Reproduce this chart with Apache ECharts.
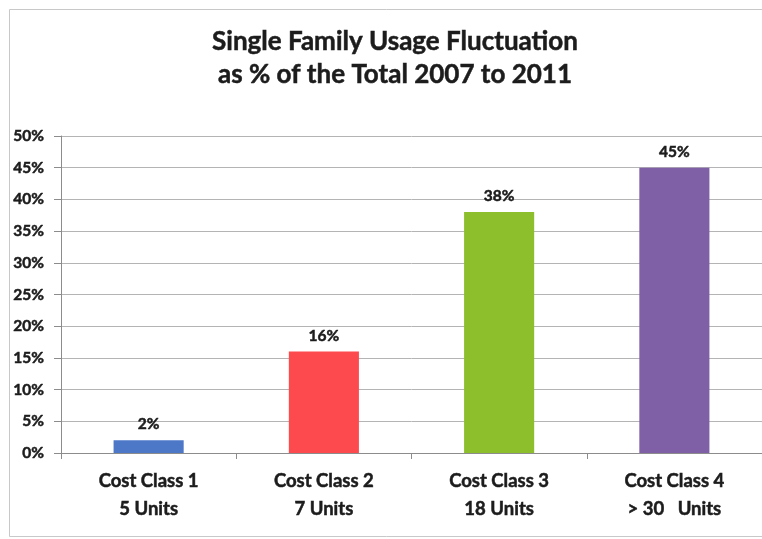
<!DOCTYPE html>
<html>
<head>
<meta charset="utf-8">
<script src="https://cdn.jsdelivr.net/npm/echarts@6/dist/echarts.min.js"></script>
<style>
  html, body { margin: 0; padding: 0; background: #ffffff; }
  #chart { width: 762px; height: 539px; }
</style>
</head>
<body>
<div id="chart"></div>
<script>
// Chart content
const titleLines = ['Single Family Usage Fluctuation', 'as % of the Total 2007 to 2011'];
const costClasses = ['Cost Class 1\n5 Units', 'Cost Class 2\n7 Units', 'Cost Class 3\n18 Units', 'Cost Class 4\n> 30   Units'];
const usageShare = [2, 16, 38, 45];          // percent of total
const barColors = ['#4d78c8', '#fd4a4f', '#8dbf2c', '#7f60a6'];
const yTicks = { min: 0, max: 50, step: 5 };

const FONT = 'Lato, "Open Sans", sans-serif';
const INK = '#1c1c1c';

// a thin outline in the text colour gives the heavier stroke weight
const heavy = (size, extra) => Object.assign({
  fontFamily: FONT, fontWeight: 'bold', fontSize: size, color: INK,
  textBorderColor: INK, textBorderWidth: 0.5
}, extra || {});

const chart = echarts.init(document.getElementById('chart'), null, { renderer: 'canvas' });

chart.setOption({
  backgroundColor: '#ffffff',
  animation: false,
  title: {
    text: titleLines.join('\n'),
    left: 390,
    top: 20,
    textAlign: 'center',
    textStyle: heavy(26, { lineHeight: 33 })
  },
  graphic: [{
    type: 'rect',
    shape: { x: 9.5, y: 9.5, width: 800, height: 527 },
    style: { fill: 'none', stroke: '#c8c8c8', lineWidth: 1 },
    silent: true,
    z: -10
  }],
  grid: { left: 61, right: -11, top: 136, bottom: 86, containLabel: false },
  xAxis: {
    type: 'category',
    data: costClasses,
    axisLine: { lineStyle: { color: '#8c8c8c', width: 1 } },
    axisTick: { show: true, length: 6, alignWithLabel: false, lineStyle: { color: '#8c8c8c' } },
    axisLabel: heavy(18.5, { lineHeight: 28, margin: 14, interval: 0 })
  },
  yAxis: {
    type: 'value',
    min: yTicks.min,
    max: yTicks.max,
    interval: yTicks.step,
    axisLine: { show: true, lineStyle: { color: '#8c8c8c', width: 1 } },
    axisTick: { show: true, length: 7, lineStyle: { color: '#8c8c8c' } },
    axisLabel: heavy(15.5, { formatter: v => v + '%', margin: 17 }),
    splitLine: { show: true, lineStyle: { color: '#b4b4b4', width: 1 } }
  },
  series: [{
    type: 'bar',
    data: usageShare.map((v, i) => ({ value: v, itemStyle: { color: barColors[i] } })),
    barWidth: '40%',
    label: Object.assign({
      show: true,
      position: 'top',
      distance: 8,
      formatter: p => p.value + '%'
    }, heavy(15.5))
  }]
});
</script>
</body>
</html>
